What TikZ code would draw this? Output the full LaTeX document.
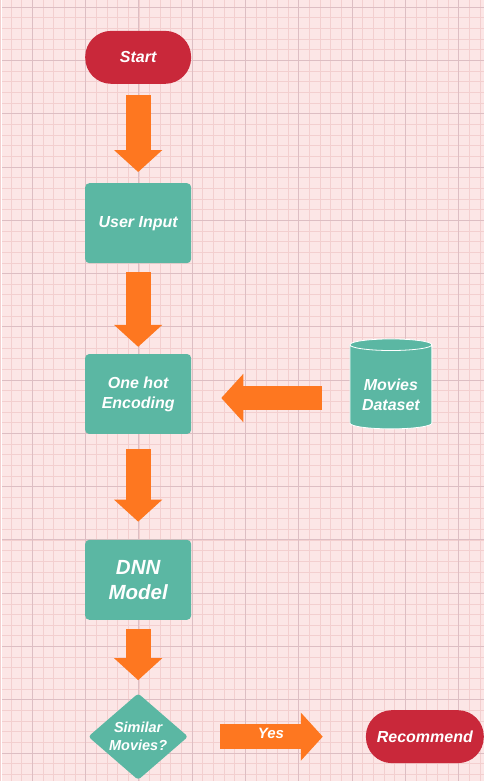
\documentclass[tikz,border=0pt]{standalone}
\usepackage{fontspec}
\setmainfont{Liberation Sans}
\usetikzlibrary{positioning, shapes.geometric, arrows.meta}
\definecolor{gridbg}{HTML}{FCE6E6}
\definecolor{gridminor}{HTML}{F3CFCF}
\definecolor{gridmajor}{HTML}{DDBEC3}
\definecolor{flowteal}{HTML}{5BB7A3}
\definecolor{flowred}{HTML}{C9283A}
\definecolor{floworange}{HTML}{FE7720}

\begin{document}
\begin{tikzpicture}[x=1pt,y=-1pt,on grid,
  txt/.style={text=white,font=\bfseries\itshape\fontsize{16}{20}\selectfont,align=center,inner sep=0pt},
  terminal/.style={txt,rectangle,rounded corners=26pt,fill=flowred,minimum width=106pt,minimum height=53pt},
  process/.style={txt,rectangle,rounded corners=4pt,fill=flowteal,minimum width=106pt,minimum height=80pt},
  decision/.style={txt,diamond,rounded corners=3pt,fill=flowteal,minimum width=100pt,minimum height=81pt,
    font=\bfseries\itshape\fontsize{14.5}{18}\selectfont},
  database/.style={txt,cylinder,shape border rotate=90,aspect=0.2,draw=white,line width=0.8pt,
    fill=flowteal,minimum width=82pt,minimum height=90pt},
  bigarrow/.style={draw=floworange,line width=25pt,-{Triangle[length=22pt,width=47pt]}}]
  % 背景网格
  \fill[gridbg] (0,0) rectangle (482,781);
  \foreach \k in {0,...,45} \draw[gridminor,line width=0.6pt] ({-2+10.667*\k},0) -- ++(0,781);
  \foreach \k in {0,...,72} \draw[gridminor,line width=0.6pt] (0,{6.67+10.667*\k}) -- ++(482,0);
  \foreach \k in {0,...,8} \draw[gridmajor,line width=0.8pt] ({30+53.333*\k},0) -- ++(0,781);
  \foreach \k in {0,...,14} \draw[gridmajor,line width=0.8pt] (0,{6.67+53.333*\k}) -- ++(482,0);

  % 流程节点
  \node[terminal] (start) at (136,57) {Start};
  \node[process] (input) [below=166pt of start] {User Input};
  \node[process] (enc) [below=171pt of input] {One hot\\Encoding};
  \node[process,font=\bfseries\itshape\fontsize{20.5}{25}\selectfont] (dnn) [below=186pt of enc] {DNN\\Model};
  \node[decision] (sim) [below=157pt of dnn] {Similar\\Movies?};
  \node[database] (data) [right=253pt of enc,yshift=7pt] {\phantom{Movies}\\\phantom{Dataset}};
  \node[txt] (datatext) at ([yshift=-8pt]data.center) {Movies\\Dataset};
  \node[terminal,minimum width=118pt] (rec) [right=287pt of sim] {Recommend};

  % 粗箭头
  \coordinate (encin) at ([yshift=-4pt]enc.east);
  \draw[bigarrow,shorten <=11pt,shorten >=11pt] (start) -- (input);
  \draw[bigarrow,shorten <=9pt,shorten >=7pt] (input) -- (enc);
  \draw[bigarrow,shorten <=15pt,shorten >=18pt] (enc) -- (dnn);
  \draw[bigarrow,shorten <=9pt,shorten >=13pt] (dnn) -- (sim);
  \draw[bigarrow,shorten <=28pt,shorten >=30pt] (data.west |- encin) -- (encin);
  \draw[bigarrow,shorten <=32pt,shorten >=43pt] (sim) -- (rec)
    node[midway,txt,xshift=-6pt,yshift=3pt,font=\bfseries\itshape\fontsize{15}{18}\selectfont] {Yes};
\end{tikzpicture}
\end{document}
